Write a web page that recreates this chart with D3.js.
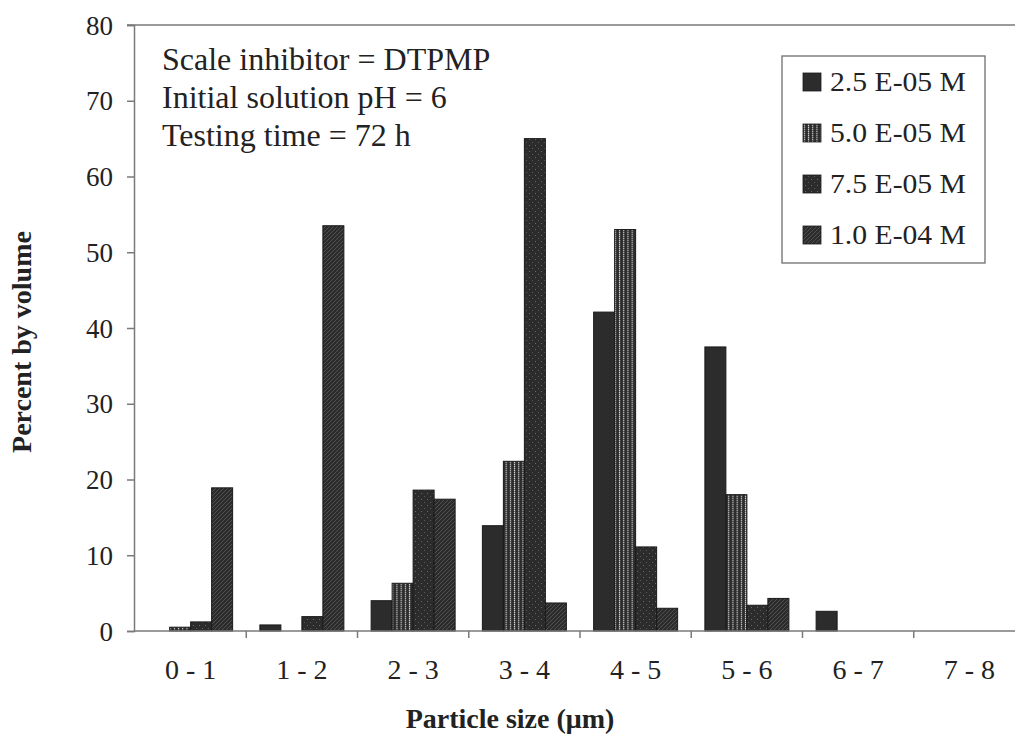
<!DOCTYPE html>
<html>
<head>
<meta charset="utf-8">
<script src="https://cdn.jsdelivr.net/npm/d3@7"></script>
<style>
  html, body { margin: 0; padding: 0; background: #fff; }
  svg { display: block; }
  text { font-family: "Liberation Serif", "Times New Roman", serif; fill: #222; }
</style>
</head>
<body>
<svg id="chart" width="1015" height="741"></svg>
<script>
// Particle size classes (µm)
const categories = ["0 - 1", "1 - 2", "2 - 3", "3 - 4", "4 - 5", "5 - 6", "6 - 7", "7 - 8"];
// Inhibitor concentrations
const seriesNames = ["2.5 E-05 M", "5.0 E-05 M", "7.5 E-05 M", "1.0 E-04 M"];
// Percent by volume for each concentration
const conc25e5 = [0, 0.8, 4.0, 13.9, 42.1, 37.5, 2.6, 0];
const conc50e5 = [0.5, 0, 6.3, 22.4, 53.0, 18.0, 0, 0];
const conc75e5 = [1.2, 1.9, 18.6, 65.0, 11.1, 3.4, 0, 0];
const conc10e4 = [18.9, 53.5, 17.4, 3.7, 3.0, 4.3, 0, 0];
const yTicks = [0, 10, 20, 30, 40, 50, 60, 70, 80];
const noteLines = ["Scale inhibitor = DTPMP", "Initial solution pH = 6", "Testing time = 72 h"];

const seriesValues = [conc25e5, conc50e5, conc75e5, conc10e4];
const rows = [];
categories.forEach((c, i) => {
  seriesValues.forEach((vals, s) => rows.push({ cat: c, s, v: vals[i] }));
});

const svg = d3.select("#chart");
const plotLeft = 135, plotRight = 1025, plotTop = 25, plotBottom = 631;

// Fill patterns for the four series
const defs = svg.append("defs");
const dark = "#2c2c2c";
// vertical dotted light stripes
const p1 = defs.append("pattern").attr("id", "pat1").attr("patternUnits", "userSpaceOnUse")
  .attr("width", 4.2).attr("height", 2);
p1.append("rect").attr("width", 4.2).attr("height", 2).attr("fill", dark);
p1.append("rect").attr("x", 1.6).attr("y", 0).attr("width", 1.1).attr("height", 1.4).attr("fill", "#d0d0d0");
// sparse dots
const p2 = defs.append("pattern").attr("id", "pat2").attr("patternUnits", "userSpaceOnUse")
  .attr("width", 6).attr("height", 6);
p2.append("rect").attr("width", 6).attr("height", 6).attr("fill", dark);
p2.append("rect").attr("x", 1).attr("y", 1).attr("width", 1).attr("height", 1).attr("fill", "#6a6a6a");
p2.append("rect").attr("x", 4).attr("y", 4).attr("width", 1).attr("height", 1).attr("fill", "#5a5a5a");
// fine diagonal hatch
const p3 = defs.append("pattern").attr("id", "pat3").attr("patternUnits", "userSpaceOnUse")
  .attr("width", 4).attr("height", 4);
p3.append("rect").attr("width", 4).attr("height", 4).attr("fill", dark);
p3.append("path").attr("d", "M-1,1 L1,-1 M0,4 L4,0 M3,5 L5,3").attr("stroke", "#555").attr("stroke-width", 0.9);

const fills = [dark, "url(#pat1)", "url(#pat2)", "url(#pat3)"];

const x0 = d3.scaleBand().domain(categories).range([plotLeft, plotRight])
  .paddingInner(0.245).paddingOuter(0.1225);
const x1 = d3.scaleBand().domain(d3.range(seriesNames.length)).range([0, x0.bandwidth()]);
const y = d3.scaleLinear().domain([0, 80]).range([plotBottom, plotTop]);

// top border of plot area
svg.append("line").attr("x1", plotLeft - 8).attr("x2", 1015).attr("y1", y(80)).attr("y2", y(80))
  .attr("stroke", "#7a7a7a").attr("stroke-width", 1.5);

// bars
svg.append("g").selectAll("rect").data(rows.filter(d => d.v > 0)).join("rect")
  .attr("x", d => x0(d.cat) + x1(d.s))
  .attr("y", d => y(d.v))
  .attr("width", x1.bandwidth())
  .attr("height", d => y(0) - y(d.v))
  .attr("fill", d => fills[d.s])
  .attr("stroke", "#1a1a1a").attr("stroke-width", 1);

// y axis
const yAxis = svg.append("g").attr("transform", `translate(${plotLeft - 1},0)`)
  .call(d3.axisLeft(y).tickValues(yTicks).tickSize(7).tickPadding(14));
yAxis.select(".domain").attr("stroke", "#7a7a7a").attr("stroke-width", 1.5);
yAxis.selectAll(".tick line").attr("stroke", "#7a7a7a").attr("stroke-width", 1.5);
yAxis.selectAll(".tick text").attr("font-size", 27).attr("font-family", "Liberation Serif")
  .attr("fill", "#222").attr("dy", "0.34em");

// x axis: ticks at band boundaries
const step = x0.step();
const xLine = svg.append("g");
xLine.append("line").attr("x1", plotLeft - 1).attr("x2", 1015).attr("y1", plotBottom).attr("y2", plotBottom)
  .attr("stroke", "#7a7a7a").attr("stroke-width", 1.5);
xLine.selectAll("line.tk").data(categories.slice(1)).join("line").attr("class", "tk")
  .attr("x1", d => x0(d) - (x0.paddingInner() * step) / 2)
  .attr("x2", d => x0(d) - (x0.paddingInner() * step) / 2)
  .attr("y1", plotBottom).attr("y2", plotBottom + 7)
  .attr("stroke", "#7a7a7a").attr("stroke-width", 1.5);
xLine.selectAll("text").data(categories).join("text")
  .attr("x", d => x0(d) + x0.bandwidth() / 2)
  .attr("y", 679)
  .attr("text-anchor", "middle").attr("font-size", 28)
  .text(d => d);

// axis titles
svg.append("text").attr("x", 510).attr("y", 728).attr("text-anchor", "middle")
  .attr("font-size", 28).attr("font-weight", "bold").text("Particle size (\u03bcm)");
svg.append("text").attr("transform", "translate(31,342) rotate(-90)").attr("text-anchor", "middle")
  .attr("font-size", 28).attr("font-weight", "bold").text("Percent by volume");

// annotation
svg.append("g").selectAll("text").data(noteLines).join("text")
  .attr("x", 162).attr("y", (d, i) => 70 + i * 38)
  .attr("font-size", 32).text(d => d);

// legend
const lg = svg.append("g");
lg.append("rect").attr("x", 782).attr("y", 56).attr("width", 203).attr("height", 207)
  .attr("fill", "#fff").attr("stroke", "#6e6e6e").attr("stroke-width", 1.3);
const items = lg.selectAll("g.item").data(seriesNames).join("g").attr("class", "item")
  .attr("transform", (d, i) => `translate(0,${82 + i * 51})`);
items.append("rect").attr("x", 803).attr("y", -9).attr("width", 18).attr("height", 18)
  .attr("fill", (d, i) => fills[i]).attr("stroke", "#1a1a1a").attr("stroke-width", 0.8);
items.append("text").attr("x", 830).attr("y", 9).attr("font-size", 27)
  .attr("textLength", 136).attr("lengthAdjust", "spacingAndGlyphs").text(d => d);
</script>
</body>
</html>
